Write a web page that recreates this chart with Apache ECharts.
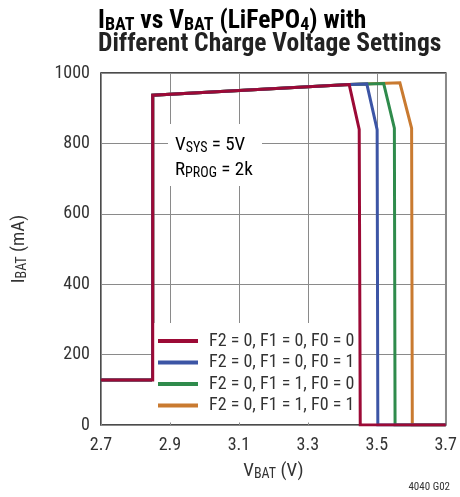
<!DOCTYPE html>
<html>
<head>
<meta charset="utf-8">
<script src="https://cdn.jsdelivr.net/npm/echarts@6/dist/echarts.min.js"></script>
<style>
html,body{margin:0;padding:0;background:#fff;}
#c{width:460px;height:497px;}
</style>
</head>
<body>
<div id="c"></div>
<script>
const FONT = '"Roboto Condensed", "Open Sans Condensed", sans-serif';
const seriesNames = ['F2 = 0, F1 = 0, F0 = 0', 'F2 = 0, F1 = 0, F0 = 1', 'F2 = 0, F1 = 1, F0 = 0', 'F2 = 0, F1 = 1, F0 = 1'];
const seriesColors = ['#9c0a36', '#3c55a5', '#2f8b4c', '#c97a30'];
// shared pre-charge and CC segment (VBAT V, IBAT mA)
const commonPath = [[2.7, 128], [2.85, 128], [2.85, 937], [3.42, 967]];
const dataF000 = [[3.449, 840], [3.452, 0], [3.7, 0]];
const dataF001 = [[3.471, 969], [3.501, 839], [3.503, 0], [3.7, 0]];
const dataF010 = [[3.520, 970], [3.551, 843], [3.553, 0], [3.7, 0]];
const dataF011 = [[3.567, 972], [3.601, 843], [3.603, 0], [3.7, 0]];
const xTicks = [2.7, 2.9, 3.1, 3.3, 3.5, 3.7];
const yTicks = [0, 200, 400, 600, 800, 1000];

const tails = [dataF000, dataF001, dataF010, dataF011];
const chart = echarts.init(document.getElementById('c'), null, {renderer: 'canvas'});
const series = tails.map((t, i) => ({
  name: seriesNames[i],
  type: 'line',
  data: commonPath.concat(t),
  showSymbol: false,
  symbol: 'none',
  z: i === 0 ? 5 : 4 - i,
  lineStyle: {color: seriesColors[i], width: 3, join: 'miter'},
  itemStyle: {color: seriesColors[i]},
  animation: false
}));

const sub = (fs, pad) => ({fontSize: fs, lineHeight: fs, padding: [pad, 0, 0, 0], verticalAlign: 'bottom', fontFamily: FONT, color: '#333'});
const main = (fs) => ({fontSize: fs, lineHeight: fs, verticalAlign: 'top', fontFamily: FONT, color: '#333'});

chart.setOption({
  animation: false,
  backgroundColor: '#fff',
  grid: {left: 97, right: 11, top: 73, bottom: 72, show: true, borderColor: '#111', borderWidth: 1.5, backgroundColor: 'transparent'},
  xAxis: {
    type: 'value', min: xTicks[0], max: xTicks[xTicks.length - 1], interval: 0.2,
    axisLine: {show: false}, axisTick: {show: false},
    splitLine: {show: true, lineStyle: {color: '#8a8a8a', width: 1}},
    axisLabel: {margin: 11, fontSize: 18, fontFamily: FONT, color: '#333', formatter: v => v.toFixed(1)},
    name: '{m|V}{s|BAT}{m| (V)}', nameLocation: 'middle', nameGap: 37,
    nameTextStyle: {rich: {m: main(19), s: sub(14, 7)}}
  },
  yAxis: {
    type: 'value', min: yTicks[0], max: yTicks[yTicks.length - 1], interval: 200,
    axisLine: {show: false}, axisTick: {show: false},
    splitLine: {show: true, lineStyle: {color: '#8a8a8a', width: 1}},
    axisLabel: {margin: 11, fontSize: 18, fontFamily: FONT, color: '#333', formatter: v => String(v)},
    name: '{m|I}{s|BAT}{m| (mA)}', nameLocation: 'middle', nameGap: 72, nameRotate: 90,
    nameTextStyle: {rich: {m: main(19), s: sub(14, 7)}}
  },
  legend: {
    orient: 'vertical', left: 152, top: 323,
    backgroundColor: '#fff', padding: [9, 6, 8, 6],
    itemGap: 3.5, itemWidth: 40, itemHeight: 4, icon: 'rect',
    textStyle: {fontSize: 18, fontFamily: FONT, color: '#333', padding: [0, 0, 0, 6]},
    data: seriesNames
  },
  graphic: [
    {type: 'rect', left: 168, top: 124, shape: {width: 94, height: 62}, style: {fill: '#fff'}, z: 10},
    {type: 'text', left: 175, top: 134, z: 11, style: {text: '{m|V}{s|SYS}{m| = 5V}', rich: {m: main(19), s: sub(14, 7)}}},
    {type: 'text', left: 175, top: 159, z: 11, style: {text: '{m|R}{s|PROG}{m| = 2k}', rich: {m: main(19), s: sub(14, 7)}}},
    {type: 'text', left: 98, top: 6, z: 11, style: {text: '{m|I}{s|BAT}{m| vs V}{s|BAT}{m| (LiFePO}{s|4}{m|) with}', rich: {
      m: {fontSize: 25.5, lineHeight: 25, fontWeight: 'bold', verticalAlign: 'top', fontFamily: FONT, color: '#222'},
      s: {fontSize: 18, lineHeight: 18, fontWeight: 'bold', padding: [10, 0, 0, 0], verticalAlign: 'bottom', fontFamily: FONT, color: '#222'}
    }}},
    {type: 'text', left: 98, top: 32, z: 11, style: {text: 'Different Charge Voltage Settings', font: 'bold 25.5px ' + FONT, fill: '#222'}},
    {type: 'text', right: 10, top: 482, z: 11, style: {text: '4040 G02', font: '11px ' + FONT, fill: '#333'}}
  ],
  series: series
});
</script>
</body>
</html>
